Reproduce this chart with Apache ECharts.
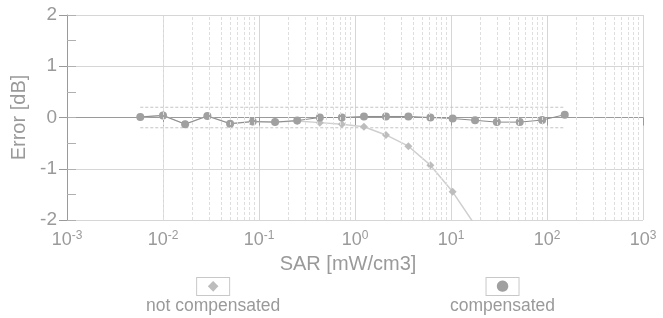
<!DOCTYPE html>
<html>
<head>
<meta charset="utf-8">
<script src="https://cdn.jsdelivr.net/npm/echarts@6/dist/echarts.min.js"></script>
<style>
html, body { margin: 0; padding: 0; background: #fff; }
#chart { width: 663px; height: 318px; }
</style>
</head>
<body>
<div id="chart"></div>
<script>
// SAR values [mW/cm3]
const sar = [ 0.0058, 0.01, 0.017, 0.029, 0.05, 0.086, 0.147, 0.25, 0.43, 0.73, 1.24, 2.1, 3.6, 6.1, 10.4, 17.8, 30, 52, 89, 153 ]
// error [dB]
const compensated = [ 0.01, 0.04, -0.13, 0.03, -0.12, -0.08, -0.09, -0.06, 0.0, 0.0, 0.02, 0.02, 0.02, 0.0, -0.02, -0.055, -0.09, -0.09, -0.05, 0.055 ]
const notCompensated = [ 0.01, 0.04, -0.13, 0.03, -0.12, -0.08, -0.09, -0.07, -0.10, -0.13, -0.18, -0.34, -0.56, -0.93, -1.45, -2.1 ]
const bandLimit = 0.2
const yTicks = [ -2, -1, 0, 1, 2 ]

const font = 'Liberation Sans'
const textColor = '#9a9a9a'

// minor log grid lines 2..9 x 10^k
const minorLines = []
for ( let k = -3; k < 3; k++ ) {
	for ( let m = 2; m < 10; m++ ) minorLines.push( { xAxis: m * Math.pow( 10, k ) } )
}

const chart = echarts.init( document.getElementById( 'chart' ), null, { renderer: 'canvas' } )

const legendStyle = ( symbol, symbolColor, size ) => ( {
	icon: 'none',
	itemWidth: 0,
	itemHeight: 0,
	top: 272,
	selectedMode: false,
	formatter: name => '{box|' + symbol + '}\n{txt|' + name + '}',
	textStyle: {
		rich: {
			box: {
				width: 32, height: 17, lineHeight: 17, align: 'center', fontSize: size, color: symbolColor,
				fontFamily: 'DejaVu Sans',
				borderColor: '#c8c8c8', borderWidth: 1, backgroundColor: '#fff'
			},
			txt: { fontFamily: font, fontSize: 17.5, color: textColor, align: 'center', lineHeight: 22 }
		}
	}
} )

chart.setOption( {
	animation: false,
	grid: { left: 67, right: 20, top: 15, bottom: 98 },
	legend: [
		Object.assign( legendStyle( '◆', '#bdbdbd', 14 ), { left: 136, data: [ 'not compensated' ] } ),
		Object.assign( legendStyle( '●', '#a0a0a0', 15 ), { left: 440, data: [ 'compensated' ] } )
	],
	xAxis: {
		type: 'log',
		logBase: 10,
		min: 0.001,
		max: 1000,
		name: 'SAR [mW/cm3]',
		nameLocation: 'middle',
		nameGap: 33,
		nameTextStyle: { fontFamily: font, fontSize: 20, color: textColor, padding: [ 0, 14, 0, 0 ] },
		axisLine: { lineStyle: { color: '#9a9a9a' } },
		axisTick: { show: true, length: 8, lineStyle: { color: '#9a9a9a' } },
		axisLabel: {
			margin: 10,
			formatter: v => '10{sup|' + Math.round( Math.log10( v ) ) + '}',
			fontFamily: font, fontSize: 18, color: textColor,
			rich: { sup: { fontFamily: font, fontSize: 12, color: textColor, verticalAlign: 'top', padding: [ 0, 0, 9, 0 ] } }
		},
		splitLine: { show: true, lineStyle: { color: '#d6d6d6' } }
	},
	yAxis: [
		{
			type: 'value',
			min: yTicks[ 0 ],
			max: yTicks[ yTicks.length - 1 ],
			interval: 1,
			name: 'Error [dB]',
			nameLocation: 'middle',
			nameGap: 27,
			nameTextStyle: { fontFamily: font, fontSize: 20, color: textColor },
			axisLine: { show: true, lineStyle: { color: '#9a9a9a' } },
			axisTick: { show: true, length: 8, lineStyle: { color: '#9a9a9a' } },
			axisLabel: { margin: 10, fontFamily: font, fontSize: 19, color: textColor },
			splitLine: { show: true, lineStyle: { color: '#d6d6d6' } }
		},
		{
			type: 'value',
			min: -2,
			max: 2,
			interval: 0.5,
			position: 'left',
			axisLine: { show: false },
			axisTick: { show: true, inside: true, length: 9, lineStyle: { color: '#b0b0b0' } },
			axisLabel: { show: false },
			splitLine: { show: false }
		}
	],
	series: [
		{
			name: 'band+',
			type: 'line',
			symbol: 'none',
			silent: true,
			data: [ [ sar[ 0 ], bandLimit ], [ sar[ sar.length - 1 ], bandLimit ] ],
			lineStyle: { color: '#c4c4c4', width: 1, type: [ 3, 2 ] },
			markLine: {
				silent: true,
				symbol: 'none',
				label: { show: false },
				lineStyle: { color: '#dedede', width: 1, type: [ 3, 2 ] },
				data: minorLines
			}
		},
		{
			name: 'band-',
			type: 'line',
			symbol: 'none',
			silent: true,
			data: [ [ sar[ 0 ], -bandLimit ], [ sar[ sar.length - 1 ], -bandLimit ] ],
			lineStyle: { color: '#c4c4c4', width: 1, type: [ 3, 2 ] }
		},
		{
			name: 'not compensated',
			type: 'line',
			clip: true,
			symbol: 'diamond',
			symbolSize: 8,
			data: notCompensated.map( ( v, i ) => [ sar[ i ], v ] ),
			lineStyle: { color: '#cfcfcf', width: 1.5 },
			itemStyle: { color: '#bdbdbd' }
		},
		{
			name: 'compensated',
			type: 'line',
			clip: true,
			symbol: 'circle',
			symbolSize: 8,
			data: compensated.map( ( v, i ) => [ sar[ i ], v ] ),
			lineStyle: { color: '#8c8c8c', width: 1 },
			itemStyle: { color: '#a0a0a0' }
		}
	]
} )
</script>
</body>
</html>
